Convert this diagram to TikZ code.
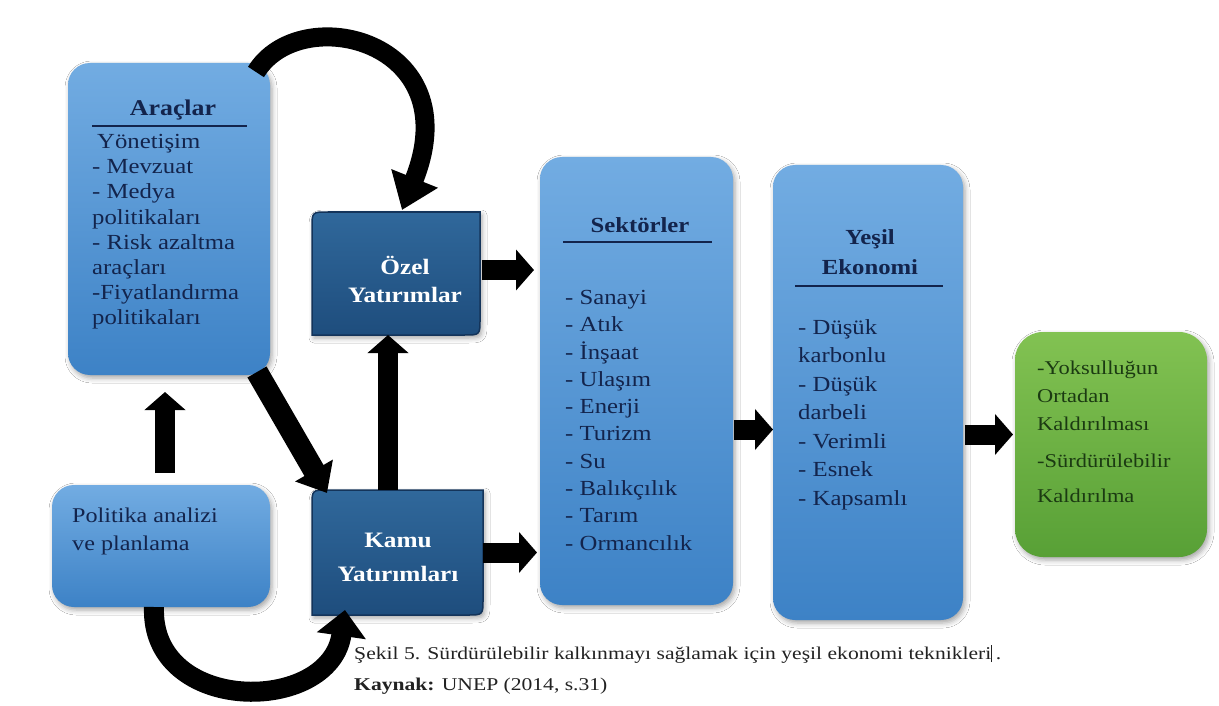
\documentclass[tikz,border=0pt]{standalone}
\usepackage{fontspec}
\setmainfont{Liberation Serif}
\usetikzlibrary{arrows.meta,calc,shadows.blur}
\definecolor{lbtop}{HTML}{72ACE2}
\definecolor{lbbot}{HTML}{3D82C6}
\definecolor{dktop}{HTML}{30689B}
\definecolor{dkbot}{HTML}{1E4D7D}
\definecolor{dkline}{HTML}{14345A}
\definecolor{grtop}{HTML}{82C252}
\definecolor{grbot}{HTML}{58A036}
\definecolor{navy}{HTML}{13244C}
\definecolor{dgreen}{HTML}{1B3A12}
\definecolor{captxt}{HTML}{222222}
\newcommand\dkshape[1]{%
  \path[dkbox] (#1.south west) -- ($(#1.north west)+(0,16)$) .. controls (#1.north west) .. ($(#1.north west)+(16,0)$)
  -- (#1.north east) -- ($(#1.south east)+(0,-16)$) .. controls (#1.south east) .. ($(#1.south east)+(-16,0)$) -- cycle;}
\begin{document}
\begin{tikzpicture}[x=1pt,y=-1pt,
  shadowed/.style={blur shadow={shadow xshift=2pt,shadow yshift=-3pt,shadow blur radius=5pt,shadow opacity=35}},
  lbox/.style={rectangle, rounded corners=22pt, inner sep=0pt, outer sep=0pt, top color=lbtop, bottom color=lbbot, shadowed},
  gbox/.style={rectangle, rounded corners=28pt, inner sep=0pt, outer sep=0pt, top color=grtop, bottom color=grbot, shadowed},
  area/.style={rectangle, inner sep=0pt, outer sep=0pt},
  dkbox/.style={top color=dktop, bottom color=dkbot, draw=dkline, line width=1.5pt, shadowed},
  blk/.style={black, line width=20pt, -{Triangle[width=40pt,length=18pt]}},
  itm/.style={inner sep=0pt, anchor=west, xscale=1.15, text height=0.68em, text depth=0.2em, text=navy, font=\fontsize{21.5}{25}\selectfont},
  gitm/.style={itm, text=dgreen, font=\fontsize{19.5}{23}\selectfont},
  ttl/.style={inner sep=0pt, anchor=center, xscale=1.15, text height=0.68em, text depth=0.2em, text=navy, font=\fontsize{21.5}{25}\selectfont\bfseries},
  wtxt/.style={inner sep=0pt, align=center, xscale=1.15, text=white, font=\fontsize{22}{#1}\selectfont\bfseries},
  captext/.style={inner sep=0pt, anchor=west, xscale=1.2, text height=0.68em, text depth=0.2em, text=captxt, font=\fontsize{18}{22}\selectfont}
]
\useasboundingbox (0,0) rectangle (1219,706);
\fill[white] (0,0) rectangle (1219,706);

% boxes
\node[lbox, minimum width=202pt, minimum height=312pt] (aracl) at (169,219) {};
\node[lbox, minimum width=218pt, minimum height=122pt] (polit) at (161,546) {};
\node[lbox, minimum width=193pt, minimum height=448pt] (sekt) at (636.5,381) {};
\node[lbox, minimum width=190pt, minimum height=455pt] (yesil) at (868,392.5) {};
\node[gbox, minimum width=192pt, minimum height=225pt] (green) at (1111,444.5) {};
\node[area, minimum width=168pt, minimum height=123pt] (ozel) at (396,273.5) {};
\node[area, minimum width=171pt, minimum height=125pt] (kamu) at (397.5,552.5) {};
\dkshape{ozel}
\dkshape{kamu}

% Araçlar
\node[ttl, font=\fontsize{22.5}{26}\selectfont\bfseries] (taracl) at (173,113) {Araçlar};
\draw[navy, line width=1.3pt] (92,126) -- (247,126);
\foreach \t/\xx [count=\i] in {Yönetişim/97, - Mevzuat/92, - Medya/92, politikaları/92, - Risk azaltma/92, araçları/92, -Fiyatlandırma/92, politikaları/92}
  \node[itm, name=a\i] at (\xx,{146+25.2*(\i-1)}) {\t};

% Politika
\node[itm, font=\fontsize{21}{25}\selectfont] (p1) at (72,520) {Politika analizi};
\node[itm, font=\fontsize{21}{25}\selectfont] (p2) at (72,548) {ve planlama};

% dark boxes text
\node[wtxt=28] (tozel) at (405,279) {Özel\\Yatırımlar};
\node[wtxt=34] (tkamu) at (398,557) {Kamu\\Yatırımları};

% Sektörler
\node[ttl] (tsekt) at (640,230) {Sektörler};
\draw[navy, line width=1.3pt] (563,242) -- (712,242);
\foreach \t [count=\i] in {- Sanayi, - Atık, - İnşaat, - Ulaşım, - Enerji, - Turizm, - Su, - Balıkçılık, - Tarım, - Ormancılık}
  \node[itm, name=s\i] at (565,{302+27.3*(\i-1)}) {\t};

% Yeşil Ekonomi
\node[ttl] (tyes1) at (870,242) {Yeşil};
\node[ttl] (tyes2) at (870,272) {Ekonomi};
\draw[navy, line width=1.3pt] (795,286) -- (943,286);
\foreach \t [count=\i] in {- Düşük, karbonlu, - Düşük, darbeli, - Verimli, - Esnek, - Kapsamlı}
  \node[itm, name=y\i] at (798,{332+28.5*(\i-1)}) {\t};

% green box
\foreach \t/\yy [count=\i] in {-Yoksulluğun/372, Ortadan/400, Kaldırılması/428, -Sürdürülebilir/465, Kaldırılma/500}
  \node[gitm, name=g\i] at (1037,\yy) {\t};

% caption
\node[captext] (cap1) at (354,657) {Şekil 5. Sürdürülebilir kalkınmayı sağlamak için yeşil ekonomi teknikleri\rule[-0.15em]{0.7pt}{0.95em}\,.};
\node[captext] (cap2) at (354,688) {\textbf{Kaynak:} UNEP (2014, s.31)};

% arrows
\draw[blk] ($(polit.north)+(4,-12)$) -- ($(aracl.south)+(-4,17)$);
\draw[blk] ($(kamu.north)+(-9.5,0)$) -- ($(ozel.south)+(-8,0)$);
\draw[blk, line width=22pt, -{Triangle[width=42pt,length=26pt]}] ($(aracl.south east)+(-13,-3)$) -- ($(kamu.north west)+(15,3)$);
\draw[blk] ($(ozel.east)+(2,-3.5)$) -- ($(ozel.east -| sekt.west)+(-6,-3.5)$);
\draw[blk] (kamu.east) -- ($(kamu.east -| sekt.west)+(-3,0)$);
\draw[blk] ($(sekt.east |- green.west)+(1,-15)$) -- ($(yesil.west |- green.west)+(0,-15)$);
\draw[blk] ($(yesil.east |- green.west)+(2,-10)$) -- ($(green.west)+(-2,-10)$);
\draw[blk, line width=19pt, -{Triangle[width=48pt,length=34pt]}] ($(aracl.north east)+(-14,9)$) .. controls (300,0) and (470,40) .. ($(ozel.north)+(6,-2)$);
\draw[blk, line width=20pt, -{Triangle[width=48pt,length=26pt]}] ($(polit.south)+(-7,0)$) .. controls (150,715) and (330,715) .. ($(kamu.south west)+(33,-5)$);
\end{tikzpicture}
\end{document}
